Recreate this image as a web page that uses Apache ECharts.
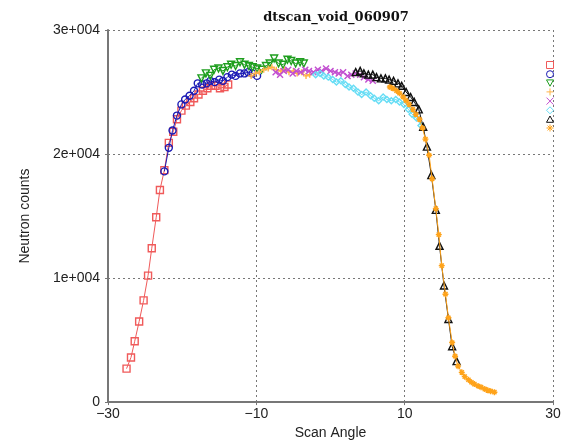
<!DOCTYPE html>
<html>
<head>
<meta charset="utf-8">
<script src="https://cdn.jsdelivr.net/npm/echarts@6/dist/echarts.min.js"></script>
<style>
  html, body { margin: 0; padding: 0; background: #fff; }
  #chart { width: 564px; height: 445px; }
</style>
</head>
<body>
<div id="chart"></div>
<script>
// scan angles / neutron counts
var xTicks = [-30, -10, 10, 30];
var yTicks = [0, 10000, 20000, 30000];

var ang1 = [-27.5, -26.9, -26.4, -25.8, -25.2, -24.6, -24.1, -23.5, -23.0, -22.4, -21.8, -21.2, -20.7, -20.1, -19.5, -18.9, -18.4, -17.8, -17.2, -16.6, -16.1, -15.5, -14.9, -14.3, -13.8];
var cnt1 = [2700, 3600, 4900, 6500, 8200, 10200, 12400, 14900, 17100, 18700, 20900, 21800, 22800, 23500, 23900, 24200, 24500, 24800, 25100, 25300, 25500, 25500, 25300, 25400, 25600];

var ang2 = [-22.4, -21.8, -21.3, -20.7, -20.1, -19.6, -19.0, -18.4, -17.9, -17.3, -16.7, -16.2, -15.6, -15.0, -14.5, -13.9, -13.3, -12.8, -12.2, -11.6, -11.1, -10.5, -9.9];
var cnt2 = [18600, 20500, 21900, 23100, 24000, 24400, 24700, 25100, 25700, 25600, 25700, 25900, 25800, 26000, 25900, 26200, 26400, 26300, 26500, 26500, 26600, 26500, 26300];

var ang3 = [-17.4, -16.8, -16.2, -15.7, -15.1, -14.5, -13.9, -13.4, -12.8, -12.2, -11.6, -11.0, -10.5, -9.9, -9.3, -8.7, -8.2, -7.6, -7.0, -6.4, -5.8, -5.3, -4.7, -4.1, -3.6];
var cnt3 = [26100, 26500, 26300, 26800, 26900, 26700, 27000, 27200, 27100, 27400, 27200, 27100, 27000, 26900, 26800, 27100, 27300, 27700, 27300, 27200, 27600, 27500, 27300, 27400, 27300];

var ang4 = [-10.7, -10.1, -9.6, -9.0, -8.4, -7.9, -7.3, -6.7, -6.2, -5.6, -5.0, -4.5, -3.9, -3.3, -2.8];
var cnt4 = [26300, 26500, 26600, 26800, 26900, 27000, 26800, 26700, 26800, 26600, 26700, 26500, 26600, 26300, 26400];

var ang5 = [-7.4, -6.8, -6.3, -5.7, -5.1, -4.6, -4.0, -3.4, -2.9, -2.3, -1.7, -1.2, -0.6, 0.0, 0.6, 1.1, 1.7, 2.3, 2.8, 3.4, 4.0, 4.5, 5.1, 5.7];
var cnt5 = [26600, 26400, 26700, 26800, 26500, 26700, 26600, 26800, 26700, 26600, 26800, 26700, 26900, 26700, 26600, 26500, 26600, 26300, 26400, 26500, 26400, 26200, 26000, 25900];

var ang6 = [-2.0, -1.4, -0.9, -0.3, 0.3, 0.8, 1.4, 2.0, 2.5, 3.1, 3.7, 4.2, 4.8, 5.4, 5.9, 6.5, 7.1, 7.6, 8.2, 8.8, 9.3, 9.9, 10.5, 11.0, 11.6, 12.2];
var cnt6 = [26400, 26500, 26300, 26200, 26000, 25800, 25900, 25600, 25400, 25300, 25000, 24800, 25000, 24700, 24500, 24300, 24600, 24400, 24300, 24400, 24200, 24000, 23600, 23200, 22900, 22300];

var ang7 = [3.4, 4.0, 4.5, 5.1, 5.7, 6.2, 6.8, 7.4, 7.9, 8.5, 9.1, 9.6, 10.2, 10.8, 11.3, 11.9, 12.5, 13.0, 13.6, 14.2, 14.7, 15.3, 15.9, 16.4, 17.0];
var cnt7 = [26600, 26700, 26500, 26400, 26400, 26200, 26100, 26100, 26000, 25900, 25700, 25500, 25000, 24600, 24200, 23600, 22200, 20600, 18300, 15500, 12600, 9400, 6700, 4500, 3300];

var ang8 = [8.0, 8.4, 8.9, 9.3, 9.8, 10.2, 10.6, 11.1, 11.5, 12.0, 12.4, 12.8, 13.3, 13.7, 14.2, 14.6, 15.0, 15.5, 15.9, 16.4, 16.8, 17.2, 17.7, 18.1, 18.6, 19.0, 19.4, 19.9, 20.3, 20.8, 21.2, 21.6, 22.1];
var cnt8 = [25400, 25300, 25100, 24900, 24600, 24300, 24000, 23600, 23200, 22800, 22100, 21200, 19900, 18000, 15600, 13500, 11000, 8700, 6800, 4800, 3700, 2900, 2400, 2050, 1800, 1600, 1450, 1300, 1200, 1050, 950, 880, 800];

var scanNames = ["s1", "s2", "s3", "s4", "s5", "s6", "s7", "s8"];

function zip(a, b) {
  return a.map(function(v, i) { return [v, b[i]]; });
}

// outline-only symbols so every marker is drawn with a thin stroke
var symSquare = "path://M0,0L10,0L10,10L0,10Z";
var symCircle = "path://M5,0A5,5 0 1 1 4.99,0Z";
var symTriDown = "path://M0,0L10,0L5,9Z";
var symPlus = "path://M0,5L10,5M5,0L5,10";
var symCross = "path://M0,0L10,10M10,0L0,10";
var symDiamond = "path://M5,0L10,5L5,10L0,5Z";
var symTriUp = "path://M5,0L10,9L0,9Z";
var symStar = "path://M0,5L10,5M5,0L5,10M1.5,1.5L8.5,8.5M8.5,1.5L1.5,8.5";

var looks = [
  { color: "#f05a5a", symbol: symSquare, size: 7 },
  { color: "#1a1ab4", symbol: symCircle, size: 7 },
  { color: "#1e9e1e", symbol: symTriDown, size: 7 },
  { color: "#ffb347", symbol: symPlus, size: 6 },
  { color: "#c24fd0", symbol: symCross, size: 6 },
  { color: "#66ddf5", symbol: symDiamond, size: 6 },
  { color: "#111111", symbol: symTriUp, size: 7 },
  { color: "#ffa31a", symbol: symStar, size: 6 }
];
var angles = [ang1, ang2, ang3, ang4, ang5, ang6, ang7, ang8];
var counts = [cnt1, cnt2, cnt3, cnt4, cnt5, cnt6, cnt7, cnt8];

var series = angles.map(function(a, i) {
  var lk = looks[i];
  return {
    name: scanNames[i],
    type: "line",
    data: zip(a, counts[i]),
    symbol: lk.symbol,
    symbolSize: lk.size,
    lineStyle: { color: lk.color, width: 1 },
    itemStyle: { color: "rgba(255,255,255,0)", borderColor: lk.color, borderWidth: 1.4 },
    emphasis: { disabled: true },
    z: 2 + i
  };
});

var legendData = scanNames.map(function(n, i) {
  return {
    name: n,
    icon: looks[i].symbol,
    itemStyle: { color: "rgba(255,255,255,0)", borderColor: looks[i].color, borderWidth: 1 }
  };
});

var chart = echarts.init(document.getElementById("chart"));
chart.setOption({
  animation: false,
  backgroundColor: "#fff",
  title: {
    text: "dtscan_void_060907",
    left: 331,
    top: 6,
    textAlign: "center",
    textStyle: {
      fontFamily: "DejaVu Serif",
      fontWeight: "bold",
      fontSize: 13,
      color: "#111"
    }
  },
  legend: {
    orient: "vertical",
    left: 541,
    top: 56,
    itemWidth: 7,
    itemHeight: 7,
    itemGap: 1.2,
    formatter: function() { return ""; },
    data: legendData
  },
  grid: {
    left: 108,
    right: 11,
    top: 30,
    bottom: 42
  },
  xAxis: {
    type: "value",
    min: -30,
    max: 30,
    interval: 20,
    name: "Scan Angle",
    nameLocation: "middle",
    nameGap: 22,
    nameTextStyle: { fontFamily: "Liberation Sans", fontSize: 14, color: "#222" },
    axisLine: { show: true, onZero: false, lineStyle: { color: "#777", width: 2 } },
    axisTick: { show: true, length: 3, lineStyle: { color: "#777" } },
    axisLabel: {
      margin: 5,
      fontFamily: "Liberation Sans",
      fontSize: 14,
      color: "#222",
      formatter: function(v) {
        return xTicks.indexOf(v) >= 0 ? String(v).replace("-", "\u2212") : "";
      }
    },
    splitLine: { show: true, lineStyle: { type: [2, 3], color: "#777", width: 1 } }
  },
  yAxis: {
    type: "value",
    min: 0,
    max: 30000,
    interval: 10000,
    name: "Neutron counts",
    nameLocation: "middle",
    nameGap: 76,
    nameTextStyle: { fontFamily: "Liberation Sans", fontSize: 14, color: "#222" },
    axisLine: { show: true, onZero: false, lineStyle: { color: "#777", width: 2 } },
    axisTick: { show: true, length: 3, lineStyle: { color: "#777" } },
    axisLabel: {
      margin: 8,
      fontFamily: "Liberation Sans",
      fontSize: 14,
      color: "#222",
      formatter: function(v) {
        if (yTicks.indexOf(v) < 0) return "";
        return v === 0 ? "0" : (v / 10000) + "e+004";
      }
    },
    splitLine: { show: true, lineStyle: { type: [2, 3], color: "#777", width: 1 } }
  },
  series: series
});
</script>
</body>
</html>
